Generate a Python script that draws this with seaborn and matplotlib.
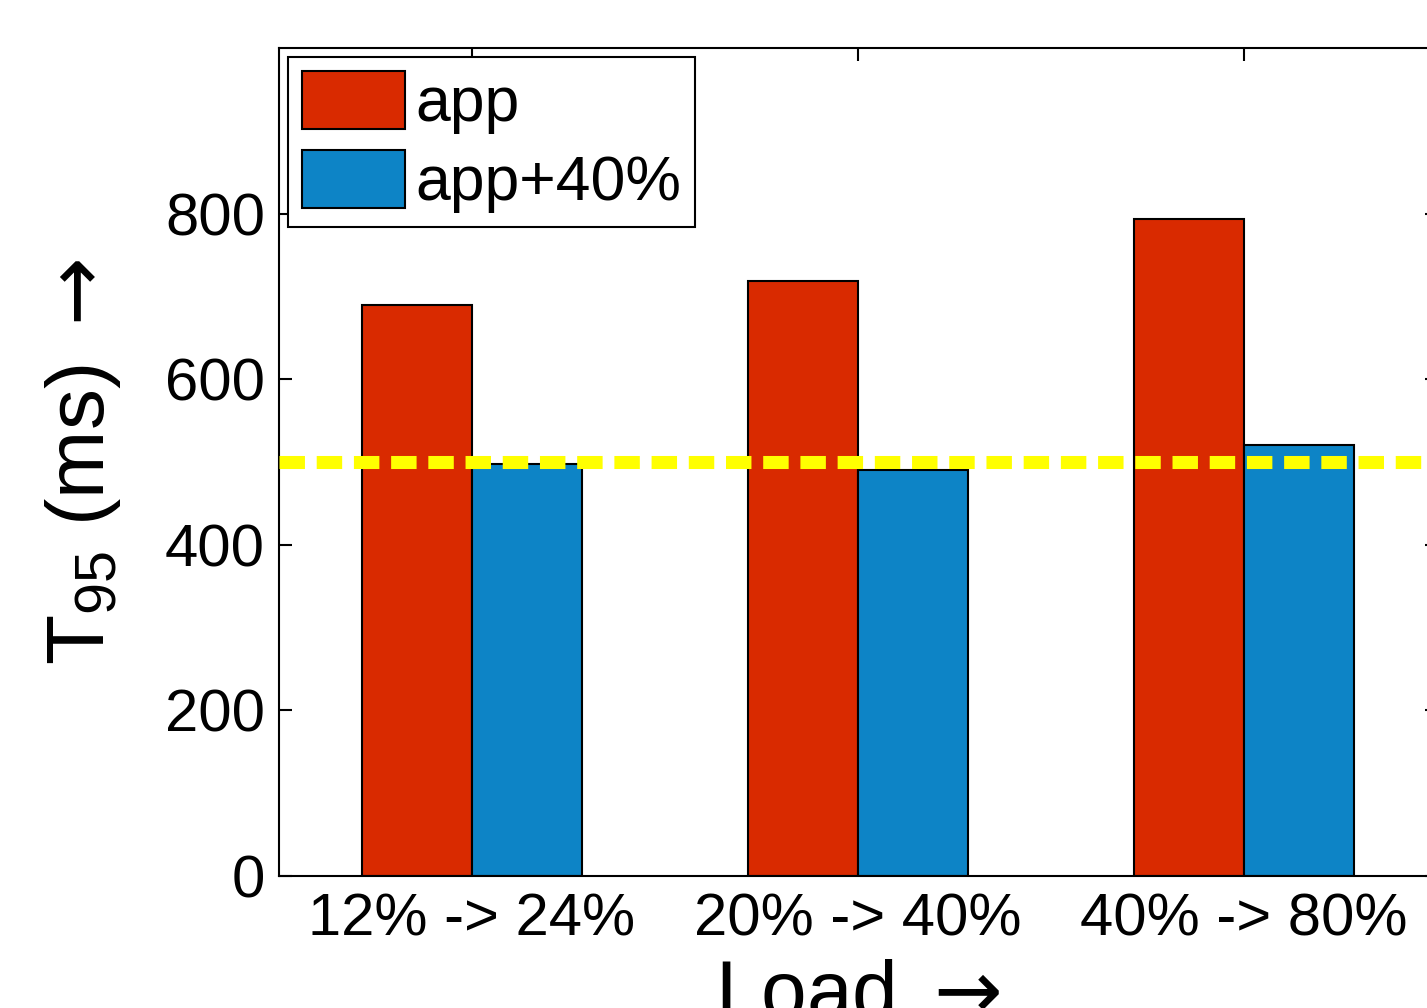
import matplotlib
matplotlib.use("Agg")
import matplotlib.pyplot as plt
import seaborn as sns
import pandas as pd

loads = ["12% -> 24%", "20% -> 40%", "40% -> 80%"]
series_names = ["app", "app+40%"]
app_vals = [690, 718, 794]
app40_vals = [498, 490, 520]
threshold = 500
y_ticks = [0, 200, 400, 600, 800]

sns.set_theme(style="white")
plt.rcParams["font.family"] = ["Liberation Sans", "DejaVu Sans"]
plt.rcParams["mathtext.fontset"] = "custom"
plt.rcParams["mathtext.rm"] = "Liberation Sans"
plt.rcParams["mathtext.it"] = "Liberation Sans:italic"
plt.rcParams["mathtext.sf"] = "DejaVu Sans"
plt.rcParams["text.color"] = "black"
plt.rcParams["axes.labelcolor"] = "black"
plt.rcParams["xtick.color"] = "black"
plt.rcParams["ytick.color"] = "black"

df = pd.DataFrame({
    "load": loads * 2,
    "series": [series_names[0]] * 3 + [series_names[1]] * 3,
    "value": app_vals + app40_vals,
})

fig = plt.figure(figsize=(14.27, 10.08), dpi=100)
ax = fig.add_axes([279 / 1427, 132 / 1008, (1437 - 279) / 1427, (876 - 48) / 1008])

palette = {"app": "#D92A00", "app+40%": "#0D84C6"}
sns.barplot(data=df, x="load", y="value", hue="series", order=loads,
            hue_order=series_names, palette=palette, width=0.572,
            saturation=1, edgecolor="black", linewidth=1.5, ax=ax)

ax.axhline(threshold, color="#FFFF00", lw=9.4, linestyle=(0, (1.95, 0.9)), zorder=5)

ax.set_xlim(-0.5, 2.5)
ax.set_ylim(0, 1000)
ax.set_yticks(y_ticks)
ax.tick_params(axis="both", direction="in", length=9, width=1.5, colors="black",
               labelcolor="black", labelsize=43, top=True, right=True,
               bottom=True, left=True)
ax.tick_params(axis="y", pad=10)
ax.tick_params(axis="x", pad=12)

for s in ax.spines.values():
    s.set_visible(True)
    s.set_color("black")
    s.set_linewidth(1.5)

ax.set_ylabel(r"T$\mathregular{_{95}}$ (ms) $\mathsf{\rightarrow}$", fontsize=59,
              labelpad=30, color="black")
ax.set_xlabel(r"Load $\mathsf{\rightarrow}$", fontsize=59, labelpad=8, color="black")

handles, labels = ax.get_legend_handles_labels()
leg = ax.legend(handles, labels, loc="upper left", fontsize=45, frameon=True,
                fancybox=False, edgecolor="black", framealpha=1,
                borderaxespad=0.15, borderpad=0.22, handlelength=1.65,
                handleheight=1.05, handletextpad=0.16, labelspacing=0.25)
leg.get_frame().set_linewidth(1.5)
for t in leg.get_texts():
    t.set_color("black")

fig.savefig("out.png", dpi=100)
